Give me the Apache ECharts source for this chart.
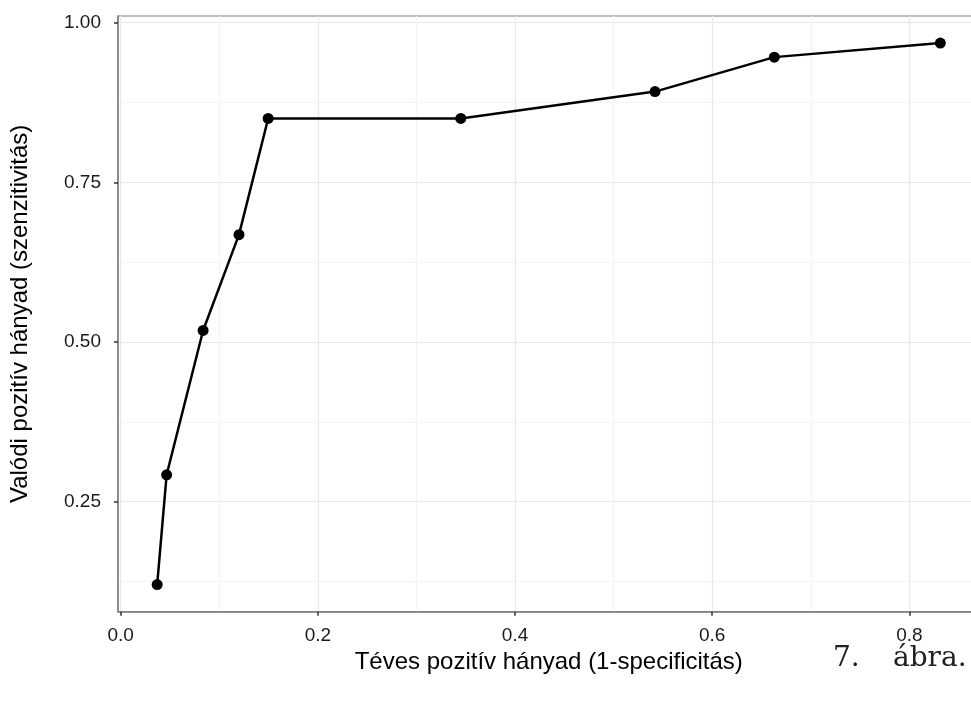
<!DOCTYPE html>
<html>
<head>
<meta charset="utf-8">
<script src="https://cdn.jsdelivr.net/npm/echarts@6/dist/echarts.min.js"></script>
<style>
html,body{margin:0;padding:0;background:#fff;overflow:hidden;width:971px;height:701px;}
#chart{width:980px;height:701px;}
</style>
</head>
<body>
<div id="chart"></div>
<script>
// ROC curve points (false positive rate, true positive rate)
const fpr = [0.037, 0.0466, 0.0836, 0.120, 0.1496, 0.345, 0.542, 0.663, 0.8314];
const tpr = [0.120, 0.292, 0.518, 0.668, 0.850, 0.850, 0.892, 0.946, 0.968];

const xMajorTicks = [0, 0.2, 0.4, 0.6, 0.8];
const xMinorTicks = [0.1, 0.3, 0.5, 0.7];
const yMajorTicks = [0.25, 0.5, 0.75, 1.0];
const yMinorTicks = [0.125, 0.375, 0.625, 0.875];

const xTitle = 'Téves pozitív hányad (1-specificitás)';
const yTitle = 'Valódi pozitív hányad (szenzitivitás)';
const captionNum = '7.';
const captionWord = 'ábra.';

// ggplot-like 5% expansion of the data range
const xr = Math.max(...fpr) - Math.min(...fpr);
const yr = Math.max(...tpr) - Math.min(...tpr);
const xMin = Math.min(...fpr) - 0.05 * xr, xMax = Math.max(...fpr) + 0.05 * xr;
const yMin = Math.min(...tpr) - 0.05 * yr, yMax = Math.max(...tpr) + 0.05 * yr;

const FONT = 'Liberation Sans, Arial, Helvetica, sans-serif';
const SERIF = 'DejaVu Serif, Liberation Serif, serif';
const chart = echarts.init(document.getElementById('chart'), null, {renderer: 'canvas'});

const option = {
  animation: false,
  backgroundColor: '#fff',
  grid: {
    left: 116, top: 16, right: 0.5, bottom: 89.3,
    show: true, backgroundColor: '#fff', borderColor: '#7f7f7f', borderWidth: 1.2
  },
  xAxis: [
    {
      type: 'value', min: xMin, max: xMax,
      name: xTitle, nameLocation: 'middle', nameGap: 39,
      nameTextStyle: {fontFamily: FONT, fontSize: 24, color: '#000'},
      axisLine: {show: true, onZero: false, lineStyle: {color: '#7f7f7f', width: 1.5}},
      axisTick: {show: true, length: 4, customValues: xMajorTicks, lineStyle: {color: '#333', width: 1.5}},
      axisLabel: {customValues: xMajorTicks, fontFamily: FONT, fontSize: 19, color: '#1a1a1a', margin: 15,
        formatter: v => v.toFixed(1)},
      splitLine: {show: true, lineStyle: {color: '#e8e8e8', width: 1.2}}
    },
    {
      type: 'value', min: xMin, max: xMax, position: 'bottom',
      axisLine: {show: false}, axisLabel: {show: false},
      axisTick: {show: false, customValues: xMinorTicks},
      splitLine: {show: true, lineStyle: {color: '#f4f4f4', width: 1.2}}
    }
  ],
  yAxis: [
    {
      type: 'value', min: yMin, max: yMax,
      name: yTitle, nameLocation: 'middle', nameGap: 86,
      nameTextStyle: {fontFamily: FONT, fontSize: 24, color: '#000'},
      axisLine: {show: true, onZero: false, lineStyle: {color: '#7f7f7f', width: 1.5}},
      axisTick: {show: true, length: 4, customValues: yMajorTicks, lineStyle: {color: '#333', width: 1.5}},
      axisLabel: {customValues: yMajorTicks, fontFamily: FONT, fontSize: 19, color: '#1a1a1a', margin: 17,
        formatter: v => v.toFixed(2)},
      splitLine: {show: true, lineStyle: {color: '#e8e8e8', width: 1.2}}
    },
    {
      type: 'value', min: yMin, max: yMax, position: 'left',
      axisLine: {show: false}, axisLabel: {show: false},
      axisTick: {show: false, customValues: yMinorTicks},
      splitLine: {show: true, lineStyle: {color: '#f4f4f4', width: 1.2}}
    }
  ],
  graphic: [
    {type: 'text', left: 833, top: 645,
     style: {text: captionNum, fontFamily: SERIF, fontSize: 28, fill: '#222'}},
    {type: 'text', left: 893, top: 645,
     style: {text: captionWord, fontFamily: SERIF, fontSize: 28, fill: '#222'}}
  ],
  series: [{
    type: 'line',
    xAxisIndex: 0, yAxisIndex: 0,
    data: fpr.map((x, i) => [x, tpr[i]]),
    symbol: 'circle', symbolSize: 11,
    lineStyle: {color: '#000', width: 2.5},
    itemStyle: {color: '#000'},
    z: 10
  }]
};
chart.setOption(option);
</script>
</body>
</html>
